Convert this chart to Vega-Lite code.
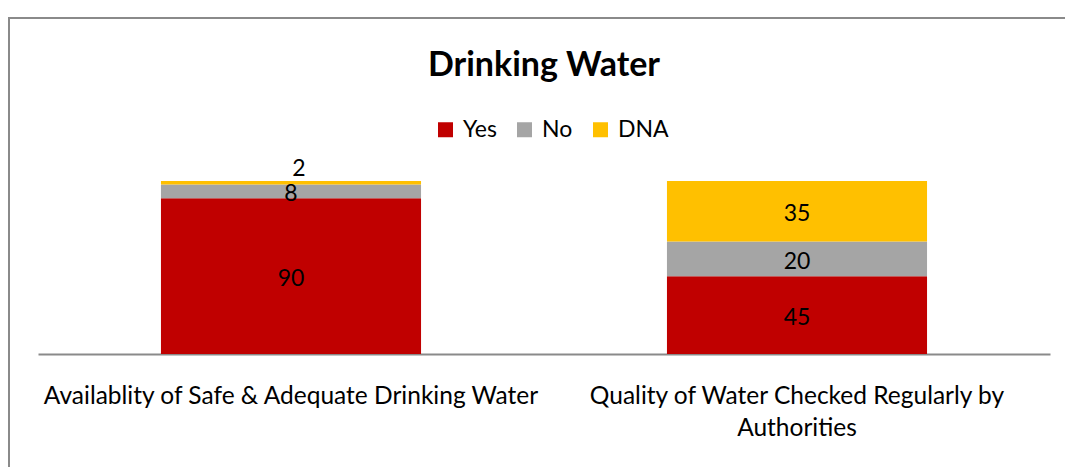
{
  "$schema": "https://vega.github.io/schema/vega-lite/v6.json",
  "autosize": {"type": "none"},
  "padding": {"left": 9, "top": 18, "right": 0, "bottom": 0},
  "width": 1070,
  "height": 470,
  "background": "white",
  "config": {
    "font": "Lato",
    "view": {"stroke": "#8a8a8a", "strokeWidth": 2}
  },
  "title": {
    "text": "Drinking Water",
    "font": "Lato",
    "fontSize": 34,
    "fontWeight": "bold",
    "color": "#000000",
    "anchor": "middle",
    "frame": "group",
    "orient": "top",
    "offset": -65
  },
  "data": {
    "values": [
      {"category": "Availablity of Safe & Adequate Drinking Water", "response": "Yes", "value": 90},
      {"category": "Availablity of Safe & Adequate Drinking Water", "response": "No", "value": 8},
      {"category": "Availablity of Safe & Adequate Drinking Water", "response": "DNA", "value": 2},
      {"category": "Quality of Water Checked Regularly by Authorities", "response": "Yes", "value": 45},
      {"category": "Quality of Water Checked Regularly by Authorities", "response": "No", "value": 20},
      {"category": "Quality of Water Checked Regularly by Authorities", "response": "DNA", "value": 35}
    ]
  },
  "transform": [
    {
      "stack": "value",
      "groupby": ["category"],
      "sort": [{"field": "response", "order": "descending"}],
      "as": ["v0", "v1"]
    }
  ],
  "encoding": {
    "x": {
      "field": "category",
      "type": "nominal",
      "sort": null,
      "scale": {"range": [29, 1041], "paddingInner": 0.486, "paddingOuter": 0.243},
      "axis": {
        "title": null,
        "orient": "bottom",
        "offset": -134,
        "domainColor": "#8a8a8a",
        "domainWidth": 2,
        "ticks": false,
        "labelAngle": 0,
        "labelFont": "Lato",
        "labelFontSize": 24.5,
        "labelColor": "#000000",
        "labelPadding": 30,
        "labelLineHeight": 32,
        "labelLimit": 0,
        "labelOverlap": false,
        "labelBound": false,
        "labelExpr": "datum.value == 'Quality of Water Checked Regularly by Authorities' ? ['Quality of Water Checked Regularly by', 'Authorities'] : datum.label"
      }
    }
  },
  "layer": [
    {
      "mark": {"type": "bar"},
      "encoding": {
        "y": {
          "field": "v1",
          "type": "quantitative",
          "scale": {"domain": [0, 100], "range": [336, 163], "nice": false},
          "axis": null
        },
        "y2": {"field": "v0"},
        "color": {
          "field": "response",
          "type": "nominal",
          "scale": {"domain": ["Yes", "No", "DNA"], "range": ["#C00000", "#A5A5A5", "#FFC000"]},
          "legend": {
            "title": null,
            "orient": "none",
            "legendX": 425,
            "legendY": 100,
            "direction": "horizontal",
            "symbolType": "square",
            "symbolSize": 225,
            "symbolStrokeWidth": 0,
            "labelFont": "Lato",
            "labelFontSize": 23,
            "labelColor": "#000000",
            "labelOffset": 6,
            "columnPadding": 16
          }
        }
      }
    },
    {
      "transform": [
        {"filter": "datum.value >= 5"},
        {"fold": ["v0", "v1"], "as": ["edge", "pos"]}
      ],
      "mark": {"type": "text", "fontSize": 23, "color": "#000000", "baseline": "middle", "dy": 3},
      "encoding": {
        "y": {"aggregate": "mean", "field": "pos", "type": "quantitative"},
        "detail": {"field": "response", "type": "nominal"},
        "text": {"field": "value", "type": "quantitative"}
      }
    },
    {
      "transform": [{"filter": "datum.value < 5"}],
      "mark": {"type": "text", "fontSize": 23, "color": "#000000", "baseline": "alphabetic", "dx": 8, "dy": -5},
      "encoding": {
        "y": {"field": "v1", "type": "quantitative"},
        "text": {"field": "value", "type": "quantitative"}
      }
    }
  ]
}
